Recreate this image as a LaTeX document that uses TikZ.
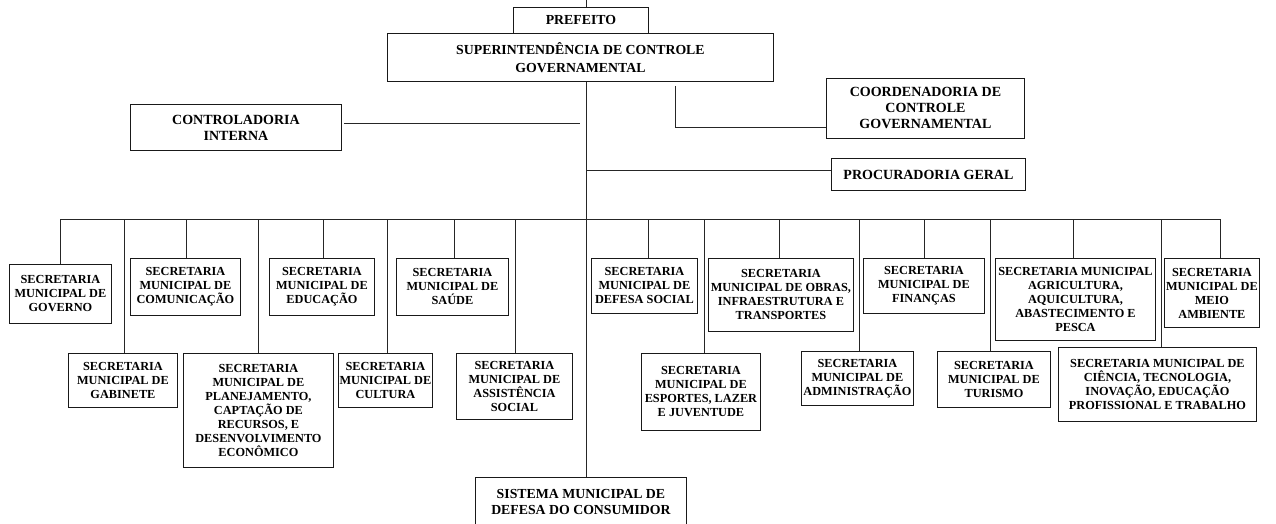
\documentclass[tikz,border=0pt]{standalone}
\usepackage{fontspec}
\setmainfont{Liberation Serif}
\newcommand\secfont{\bfseries\fontsize{12.3}{14}\selectfont}
\newcommand\midfont{\bfseries\fontsize{14}{16}\selectfont}
\newcommand\topfont{\bfseries\fontsize{13.8}{18}\selectfont}
\newcommand\sisfont{\bfseries\fontsize{13.8}{16}\selectfont}
\tikzset{
  box/.style={draw=black!90, line width=0.9pt, inner sep=0pt, align=center, anchor=north west, font=\secfont},
  midbox/.style={box, font=\midfont},
  topbox/.style={box, font=\topfont},
  conn/.style={draw=black!85, line width=0.8pt},
}
\begin{document}
\begin{tikzpicture}[x=1pt,y=-1pt]
\useasboundingbox (0,0) rectangle (1276,524);
% top
\node[topbox, minimum width=135pt, minimum height=26pt] (pref) at (513,7) {PREFEITO};
\node[topbox, minimum width=386pt, minimum height=48pt] (sup) at (387,33) {SUPERINTENDÊNCIA DE CONTROLE\\GOVERNAMENTAL};
\node[midbox, minimum width=211pt, minimum height=46pt] (ctrl) at (130,104) {CONTROLADORIA\\INTERNA};
\node[midbox, minimum width=198pt, minimum height=60pt] (coord) at (826,78) {COORDENADORIA DE\\CONTROLE\\GOVERNAMENTAL};
\node[midbox, minimum width=194pt, minimum height=32pt] (proc) at (831,158) {PROCURADORIA GERAL};
% first row
\node[box, minimum width=102pt, minimum height=59pt] (gov) at (9,264) {SECRETARIA\\MUNICIPAL DE\\GOVERNO};
\node[box, minimum width=110pt, minimum height=57pt] (com) at (130,258) {SECRETARIA\\MUNICIPAL DE\\COMUNICAÇÃO};
\node[box, minimum width=105pt, minimum height=57pt] (edu) at (269,258) {SECRETARIA\\MUNICIPAL DE\\EDUCAÇÃO};
\node[box, minimum width=112pt, minimum height=57pt] (sau) at (396,258) {SECRETARIA\\MUNICIPAL DE\\SAÚDE};
\node[box, minimum width=106pt, minimum height=55pt] (def) at (591,258) {SECRETARIA\\MUNICIPAL DE\\DEFESA SOCIAL};
\node[box, minimum width=145pt, minimum height=73pt] (obr) at (708,258) {SECRETARIA\\MUNICIPAL DE OBRAS,\\INFRAESTRUTURA E\\TRANSPORTES};
\node[box, minimum width=121pt, minimum height=55pt] (fin) at (863,258) {SECRETARIA\\MUNICIPAL DE\\FINANÇAS};
\node[box, minimum width=160pt, minimum height=82pt] (agr) at (995,258) {SECRETARIA MUNICIPAL\\AGRICULTURA,\\AQUICULTURA,\\ABASTECIMENTO E\\PESCA};
\node[box, minimum width=95pt, minimum height=69pt] (mei) at (1164,258) {SECRETARIA\\MUNICIPAL DE\\MEIO\\AMBIENTE};
% second row
\node[box, minimum width=109pt, minimum height=54pt] (gab) at (68,353) {SECRETARIA\\MUNICIPAL DE\\GABINETE};
\node[box, minimum width=150pt, minimum height=114pt] (pla) at (183,353) {SECRETARIA\\MUNICIPAL DE\\PLANEJAMENTO,\\CAPTAÇÃO DE\\RECURSOS, E\\DESENVOLVIMENTO\\ECONÔMICO};
\node[box, minimum width=94pt, minimum height=54pt] (cul) at (338,353) {SECRETARIA\\MUNICIPAL DE\\CULTURA};
\node[box, minimum width=116pt, minimum height=66pt] (ass) at (456,353) {SECRETARIA\\MUNICIPAL DE\\ASSISTÊNCIA\\SOCIAL};
\node[box, minimum width=119pt, minimum height=77pt] (esp) at (641,353) {SECRETARIA\\MUNICIPAL DE\\ESPORTES, LAZER\\E JUVENTUDE};
\node[box, minimum width=112pt, minimum height=54pt] (adm) at (801,351) {SECRETARIA\\MUNICIPAL DE\\ADMINISTRAÇÃO};
\node[box, minimum width=113pt, minimum height=56pt] (tur) at (937,351) {SECRETARIA\\MUNICIPAL DE\\TURISMO};
\node[box, minimum width=198pt, minimum height=74pt] (cie) at (1058,347) {SECRETARIA MUNICIPAL DE\\CIÊNCIA, TECNOLOGIA,\\INOVAÇÃO, EDUCAÇÃO\\PROFISSIONAL E TRABALHO};
\node[box, font=\sisfont, minimum width=211pt, minimum height=50pt] (sis) at (475,477) {SISTEMA MUNICIPAL DE\\DEFESA DO CONSUMIDOR};
% coordinates
\coordinate (top) at (586,0);
\coordinate (mx) at (586,0);
\coordinate (cj) at (580,123);
\coordinate (k1) at (675,86);
\coordinate (k2) at (675,127);
\coordinate (pj) at (586,170);
\coordinate (b1) at (60,219);
\coordinate (b2) at (124,219);
\coordinate (b3) at (186,219);
\coordinate (b4) at (258,219);
\coordinate (b5) at (323,219);
\coordinate (b6) at (387,219);
\coordinate (b7) at (454,219);
\coordinate (b8) at (515,219);
\coordinate (b9) at (648,219);
\coordinate (b10) at (704,219);
\coordinate (b11) at (779,219);
\coordinate (b12) at (859,219);
\coordinate (b13) at (924,219);
\coordinate (b14) at (990,219);
\coordinate (b15) at (1073,219);
\coordinate (b16) at (1161,219);
\coordinate (b17) at (1220,219);
% connectors
\draw[conn] (top) -- (pref.north -| top);
\draw[conn] (sup.south -| mx) -- (sis.north -| mx);
\draw[conn] ([xshift=2pt]ctrl.east |- cj) -- (cj);
\draw[conn] (k1) -- (k2) -- (k2 -| coord.west);
\draw[conn] (pj) -- (pj -| proc.west);
\draw[conn] (b1) -- (b17);
\draw[conn] (b1) -- (b1 |- gov.north);
\draw[conn] (b2) -- (b2 |- gab.north);
\draw[conn] (b3) -- (b3 |- com.north);
\draw[conn] (b4) -- (b4 |- pla.north);
\draw[conn] (b5) -- (b5 |- edu.north);
\draw[conn] (b6) -- (b6 |- cul.north);
\draw[conn] (b7) -- (b7 |- sau.north);
\draw[conn] (b8) -- (b8 |- ass.north);
\draw[conn] (b9) -- (b9 |- def.north);
\draw[conn] (b10) -- (b10 |- esp.north);
\draw[conn] (b11) -- (b11 |- obr.north);
\draw[conn] (b12) -- (b12 |- adm.north);
\draw[conn] (b13) -- (b13 |- fin.north);
\draw[conn] (b14) -- (b14 |- tur.north);
\draw[conn] (b15) -- (b15 |- agr.north);
\draw[conn] (b16) -- (b16 |- cie.north);
\draw[conn] (b17) -- (b17 |- mei.north);
\end{tikzpicture}
\end{document}
